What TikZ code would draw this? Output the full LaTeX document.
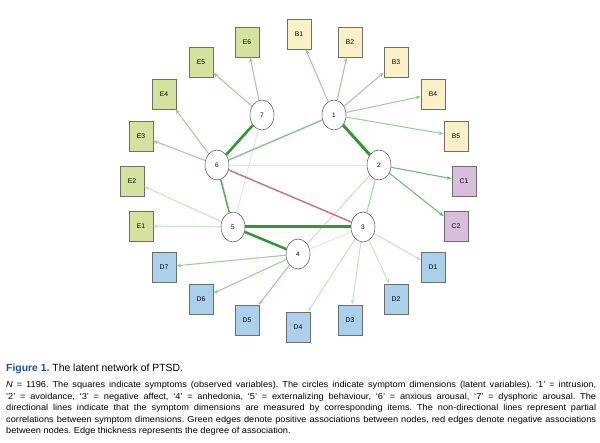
\documentclass[tikz,border=0pt]{standalone}
\usepackage{fontspec}
\setmainfont{Liberation Sans}
\newfontfamily\capfont[FakeStretch=1.06]{Liberation Sans}
\usetikzlibrary{shapes.geometric,arrows.meta}
\definecolor{bfill}{RGB}{250,241,200}
\definecolor{cfill}{RGB}{216,190,220}
\definecolor{dfill}{RGB}{171,208,236}
\definecolor{efill}{RGB}{212,226,160}
\definecolor{boxline}{RGB}{110,110,110}
\definecolor{arrc}{RGB}{150,205,145}
\definecolor{arrf}{RGB}{195,228,190}
\definecolor{arrs}{RGB}{110,190,110}
\definecolor{dkgreen}{RGB}{52,150,52}
\definecolor{mdgreen}{RGB}{90,175,90}
\definecolor{ltgreen}{RGB}{135,198,135}
\definecolor{redge}{RGB}{200,120,120}
\definecolor{figblue}{RGB}{30,80,160}
\frenchspacing
\tikzset{
  lat/.style={ellipse,draw=black!70,line width=0.5pt,fill=white,minimum width=24pt,minimum height=30pt,inner sep=0pt,font=\fontsize{6.5}{7}\selectfont},
  sym/.style={rectangle,draw=boxline,line width=0.6pt,minimum width=24pt,minimum height=30pt,inner sep=0pt,font=\fontsize{6.8}{7}\selectfont},
  arr/.style={draw=arrc,line width=1pt,-{Stealth[length=5pt,width=4pt]}},
  arrfaint/.style={draw=arrf,line width=1pt,-{Stealth[length=5pt,width=4pt]}},
  arrstrong/.style={draw=arrs,line width=1.1pt,-{Stealth[length=5pt,width=4pt]}},
  capline/.style={anchor=base west,inner sep=0pt,font=\capfont\fontsize{8.7}{10}\selectfont\frenchspacing}
}
\begin{document}
\begin{tikzpicture}[x=1pt,y=-1pt]
\useasboundingbox (0,0) rectangle (600,443);
\fill[white] (0,0) rectangle (600,443);
% latent nodes
\node[lat] (n1) at (334,115) {1};
\node[lat] (n2) at (379,165) {2};
\node[lat] (n3) at (363,227) {3};
\node[lat] (n4) at (298,254) {4};
\node[lat] (n5) at (233,227) {5};
\node[lat] (n6) at (217,165) {6};
\node[lat] (n7) at (262,115) {7};
% symptom boxes
\node[sym,fill=bfill] (B1) at (299,34) {B1};
\node[sym,fill=bfill] (B2) at (350,42) {B2};
\node[sym,fill=bfill] (B3) at (396,62) {B3};
\node[sym,fill=bfill] (B4) at (433,94) {B4};
\node[sym,fill=bfill] (B5) at (456,136) {B5};
\node[sym,fill=cfill] (C1) at (464,181) {C1};
\node[sym,fill=cfill] (C2) at (456,226) {C2};
\node[sym,fill=dfill] (D1) at (433,267) {D1};
\node[sym,fill=dfill] (D2) at (396,299) {D2};
\node[sym,fill=dfill] (D3) at (350,320) {D3};
\node[sym,fill=dfill] (D4) at (298,327) {D4};
\node[sym,fill=dfill] (D5) at (247,320) {D5};
\node[sym,fill=dfill] (D6) at (201,299) {D6};
\node[sym,fill=dfill] (D7) at (164,267) {D7};
\node[sym,fill=efill] (E1) at (141,226) {E1};
\node[sym,fill=efill] (E2) at (132,181) {E2};
\node[sym,fill=efill] (E3) at (141,136) {E3};
\node[sym,fill=efill] (E4) at (164,94) {E4};
\node[sym,fill=efill] (E5) at (201,62) {E5};
\node[sym,fill=efill] (E6) at (247,42) {E6};
% partial correlations
\draw[draw=black!10,line width=0.6pt] (n6) -- (n2);
\draw[draw=black!12,line width=0.8pt] (n3) -- (n4);
\draw[draw=green!40!black!15,line width=0.8pt] (n7) -- (n5);
\draw[draw=redge!45,line width=0.8pt] (n2) -- (n4);
\draw[draw=ltgreen!80,line width=1pt] (n2) -- (n3);
\draw[draw=redge,line width=1.5pt] (n6) -- (n3);
\draw[draw=ltgreen,line width=1.4pt] (n6) -- (n1);
\draw[draw=mdgreen,line width=1.6pt] (n6) -- (n5);
\draw[draw=dkgreen,line width=2.6pt] (n6) -- (n7);
\draw[draw=dkgreen,line width=3pt] (n1) -- (n2);
\draw[draw=dkgreen,line width=3pt] (n5) -- (n3);
\draw[draw=dkgreen,line width=2.5pt] (n5) -- (n4);
% measurement arrows
\draw[arr] (n1) -- (B1);
\draw[arr] (n1) -- (B2);
\draw[arr] (n1) -- (B3);
\draw[arr] (n1) -- (B4);
\draw[arr] (n1) -- (B5);
\draw[arrstrong] (n2) -- (C1);
\draw[arrstrong] (n2) -- (C2);
\draw[arrfaint] (n3) -- (D1);
\draw[arrfaint] (n3) -- (D2);
\draw[arrfaint] (n3) -- (D3);
\draw[arrfaint] (n3) -- (D4);
\draw[arr] (n4) -- (D5);
\draw[arr] (n4) -- (D6);
\draw[arr] (n4) -- (D7);
\draw[arrfaint] (n5) -- (E1);
\draw[arrfaint] (n5) -- (E2);
\draw[arr] (n6) -- (E3);
\draw[arr] (n6) -- (E4);
\draw[arr] (n7) -- (E5);
\draw[arr] (n7) -- (E6);
% caption
\node[capline,font=\fontsize{10.4}{12}\selectfont] (cap0) at (6,372) {{\color{figblue}\bfseries Figure 1.} The latent network of PTSD.};
\node[capline] (cap1) at (6,388) {\makebox[590pt][s]{\textit{N} = 1196. The squares indicate symptoms (observed variables). The circles indicate symptom dimensions (latent variables). ‘1’ = intrusion,}};
\node[capline] (cap2) at (6,399.5) {\makebox[590pt][s]{‘2’ = avoidance, ‘3’ = negative affect, ‘4’ = anhedonia, ‘5’ = externalizing behaviour, ‘6’ = anxious arousal, ‘7’ = dysphoric arousal. The}};
\node[capline] (cap3) at (6,411) {\makebox[590pt][s]{directional lines indicate that the symptom dimensions are measured by corresponding items. The non-directional lines represent partial}};
\node[capline] (cap4) at (6,422.5) {\makebox[590pt][s]{correlations between symptom dimensions. Green edges denote positive associations between nodes, red edges denote negative associations}};
\node[capline] (cap5) at (6,434) {between nodes. Edge thickness represents the degree of association.};
\end{tikzpicture}
\end{document}
